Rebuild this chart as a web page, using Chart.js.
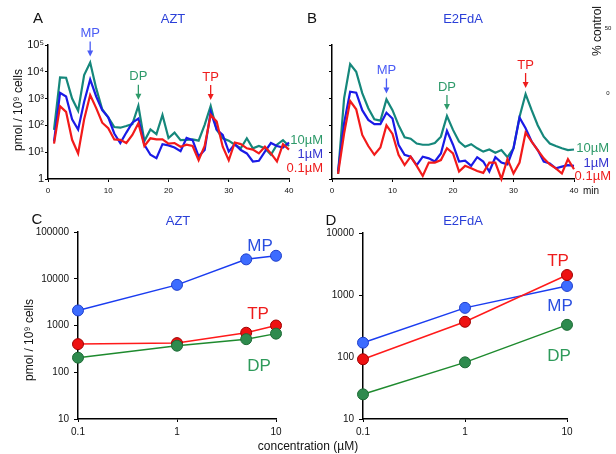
<!DOCTYPE html>
<html>
<head>
<meta charset="utf-8">
<script src="https://cdn.jsdelivr.net/npm/chart.js@4"></script>
<style>
body { margin: 0; background: #fff; }
#wrap { position: relative; width: 616px; height: 454px; overflow: hidden; font-family: "Liberation Sans", Arial, sans-serif; }
canvas { position: absolute; }
.t { position: absolute; white-space: nowrap; line-height: 1; transform: translate(-50%, -50%); }
.r { position: absolute; white-space: nowrap; line-height: 1; transform: translate(-100%, -50%); }
.rot { position: absolute; white-space: nowrap; line-height: 1; transform: translate(-50%, -50%) rotate(-90deg); }
</style>
</head>
<body>
<div id="wrap">
  <canvas id="cA" width="330" height="200" style="left:0;top:0"></canvas>
  <canvas id="cB" width="316" height="200" style="left:300px;top:0"></canvas>
  <canvas id="cC" width="300" height="254" style="left:0;top:200px"></canvas>
  <canvas id="cD" width="316" height="254" style="left:300px;top:200px"></canvas>

  <div class="t" style="left:38px;top:17px;font-size:15px;color:#111">A</div>
  <div class="t" style="left:312px;top:17px;font-size:15px;color:#111">B</div>
  <div class="t" style="left:37px;top:218px;font-size:15px;color:#111">C</div>
  <div class="t" style="left:331px;top:219px;font-size:15px;color:#111">D</div>

  <div class="t" style="left:173px;top:18px;font-size:13px;color:#2a3fd8">AZT</div>
  <div class="t" style="left:463px;top:18px;font-size:13px;color:#2a3fd8">E2FdA</div>
  <div class="t" style="left:178px;top:220px;font-size:13px;color:#2a3fd8">AZT</div>
  <div class="t" style="left:463px;top:220px;font-size:13px;color:#2a3fd8">E2FdA</div>

  <div class="rot" style="left:18px;top:110px;font-size:12px;color:#111">pmol / 10⁹ cells</div>
  <div class="rot" style="left:29px;top:340px;font-size:12px;color:#111">pmol / 10⁹ cells</div>
  <div class="t" style="left:308px;top:446px;font-size:12px;color:#111">concentration (µM)</div>
  <div class="t" style="left:591px;top:191px;font-size:10px;color:#111">min</div>

  <div class="r" style="left:323px;top:139px;font-size:13px;color:#2e9a6a">10µM</div>
  <div class="r" style="left:323px;top:153px;font-size:13px;color:#3535d0">1µM</div>
  <div class="r" style="left:323px;top:167px;font-size:13px;color:#ee1c1c">0.1µM</div>
  <div class="r" style="left:609px;top:147px;font-size:13px;color:#2e9a6a">10µM</div>
  <div class="r" style="left:609px;top:162px;font-size:13px;color:#3535d0">1µM</div>
  <div class="r" style="left:611px;top:175px;font-size:13px;color:#ee1c1c">0.1µM</div>

  <div class="t" style="left:260px;top:245px;font-size:17px;color:#2a4fe0">MP</div>
  <div class="t" style="left:258px;top:313px;font-size:17px;color:#ee1c1c">TP</div>
  <div class="t" style="left:259px;top:365px;font-size:17px;color:#2e9a5a">DP</div>
  <div class="t" style="left:558px;top:260px;font-size:17px;color:#ee1c1c">TP</div>
  <div class="t" style="left:560px;top:305px;font-size:17px;color:#2a4fe0">MP</div>
  <div class="t" style="left:559px;top:355px;font-size:17px;color:#2e9a5a">DP</div>

  <div class="rot" style="left:597px;top:31px;font-size:12px;color:#111">% control</div>
  <div class="t" style="left:608px;top:28px;font-size:6px;color:#111">50</div>
  <div class="t" style="left:608px;top:93px;font-size:6px;color:#111">0</div>
</div>
<script>
// retention time (min)
const minutes = [1, 2, 3, 4, 5, 6, 7, 8, 9, 10, 11, 12, 13, 14, 15, 16, 17, 18, 19, 20,
                 21, 22, 23, 24, 25, 26, 27, 28, 29, 30, 31, 32, 33, 34, 35, 36, 37, 38, 39, 40];

// AZT chromatograms (pmol / 10^9 cells)
const azt10 = [68, 6200, 6000, 1000, 350, 7600, 22000, 2400, 400, 200, 87, 82, 95, 112, 540, 26, 71, 47, 245, 34,
               54, 28, 29, 30, 27, 105, 530, 68, 33, 27, 19, 14, 33, 14, 17, 14, 8, 19, 28, 17];
const azt1 = [25, 1650, 1200, 170, 70, 760, 5200, 1200, 370, 200, 50, 22, 54, 126, 180, 19, 8, 6, 20, 18,
              15, 11, 34, 28, 7, 12, 320, 70, 44, 10.5, 20, 12, 9, 4.5, 4.8, 10.5, 22, 17, 15, 23];
const azt01 = [21, 520, 320, 29, 9, 170, 1350, 440, 126, 78, 30, 29, 22, 44, 120, 17, 33, 30, 30, 21,
               22, 16, 19, 17, 5, 17, 245, 138, 16, 5, 23, 20, 14, 12.5, 9, 16, 9, 4.5, 20, 12.5];

// E2FdA chromatograms
const e2f10 = [1.55, 1020, 19500, 10000, 1600, 440, 170, 150, 930, 370, 102, 36, 32, 21, 19, 19, 22, 38, 224, 68,
               25, 16, 20, 14, 10.5, 12.6, 9.5, 12, 6.5, 14, 210, 1480, 370, 102, 38, 21, 17, 14, 12, 12.6];
const e2f1 = [1.9, 120, 1800, 1660, 370, 160, 112, 112, 295, 180, 19, 8, 6.8, 3.3, 6.8, 5.9, 4.5, 9, 63, 19,
              4.5, 4.8, 3.1, 6.5, 4.5, 1.9, 6.5, 4.1, 3.5, 14, 195, 78, 25, 12, 4.5, 3.8, 2.5, 2.9, 3.3, 3.1];
const e2f01 = [1.55, 50, 810, 400, 44, 17, 8, 15, 100, 48, 8, 3.3, 6.8, 3.1, 1.3, 4.1, 4.1, 5.1, 14, 9,
               1.9, 3.1, 2.5, 2, 1.7, 4.1, 4.1, 1.0, 5.6, 1.6, 4.1, 54, 25, 12, 5.9, 3.5, 2.5, 1.6, 5.5, 2.3];

const chromTicks = [1, 10, 100, 1000, 10000, 100000];
const chromTickLabels = ['1', '10¹', '10²', '10³', '10⁴', '10⁵'];

// dose response
const concAzt = [0.1, 1, 5, 10];
const aztMP = [2100, 7400, 26000, 31000];
const aztTP = [400, 420, 700, 1000];
const aztDP = [205, 370, 510, 670];

const concE2f = [0.1, 1, 10];
const e2fMP = [170, 620, 1400];
const e2fTP = [92, 370, 2100];
const e2fDP = [25, 82, 330];

const concTicks = [0.1, 1, 10];
const aztDoseTicks = [10, 100, 1000, 10000, 100000];
const e2fDoseTicks = [10, 100, 1000, 10000];

Chart.defaults.font.family = '"Liberation Sans", Arial, sans-serif';
Chart.defaults.color = '#111';

const TEAL = '#15877b', BLUE = '#1a1ae6', RED = '#f21a1a';

function pts(xs, ys) {
    return xs.map((x, i) => ({ x: x, y: ys[i] }));
}

// arrows that mark peaks, placed from the data through the chart scales
const peakArrows = {
    id: 'peakArrows',
    afterDatasetsDraw(chart, args, opts) {
        const ctx = chart.ctx;
        const xs = chart.scales.x, ys = chart.scales.y;
        (opts.items || []).forEach(a => {
            const x = xs.getPixelForValue(a.t);
            const tip = ys.getPixelForValue(a.peak) - 6;
            const tail = tip - 15;
            ctx.save();
            ctx.strokeStyle = a.color;
            ctx.fillStyle = a.color;
            ctx.lineWidth = 1.3;
            ctx.beginPath();
            ctx.moveTo(x, tail);
            ctx.lineTo(x, tip - 3);
            ctx.stroke();
            ctx.beginPath();
            ctx.moveTo(x, tip);
            ctx.lineTo(x - 3, tip - 6);
            ctx.lineTo(x + 3, tip - 6);
            ctx.closePath();
            ctx.fill();
            ctx.font = '13px "Liberation Sans", Arial, sans-serif';
            ctx.textAlign = 'center';
            ctx.textBaseline = 'middle';
            ctx.fillText(a.label, x, tail - 8);
            ctx.restore();
        });
    }
};

function chromChart(id, w, area, teal, blue, red, showY, arrows) {
    const line = (data, color) => ({
        data: pts(minutes, data), borderColor: color, borderWidth: 2.2,
        pointRadius: 0, tension: 0, fill: false, clip: false
    });
    return new Chart(document.getElementById(id), {
        type: 'line',
        data: { datasets: [line(red, RED), line(blue, BLUE), line(teal, TEAL)] },
        options: {
            responsive: false, animation: false, devicePixelRatio: 1,
            layout: { padding: { top: area.top, right: w - area.right, left: 0, bottom: 0 } },
            plugins: { legend: { display: false }, tooltip: { enabled: false }, peakArrows: { items: arrows } },
            scales: {
                x: {
                    type: 'linear', min: 0, max: 40,
                    afterBuildTicks: s => { s.ticks = [0, 10, 20, 30, 40].map(v => ({ value: v })); },
                    afterFit: s => { s.height = 200 - area.bottom; },
                    grid: { drawOnChartArea: false, tickLength: 3, color: '#000' },
                    border: { color: '#000', width: 1.5 },
                    ticks: { font: { size: 8 }, color: '#111', padding: 4, maxRotation: 0 }
                },
                y: {
                    type: 'logarithmic', min: 1, max: 100000,
                    afterBuildTicks: s => { s.ticks = chromTicks.map(v => ({ value: v })); },
                    afterFit: s => { s.width = area.left; },
                    grid: { drawOnChartArea: false, tickLength: 3, color: '#000' },
                    border: { color: '#000', width: 1.5 },
                    ticks: {
                        autoSkip: false, font: { size: 11 }, color: '#111', padding: 1,
                        callback: (v, i) => showY ? chromTickLabels[i] : ''
                    }
                }
            }
        },
        plugins: [peakArrows]
    });
}

chromChart('cA', 330, { left: 48, top: 45, right: 289, bottom: 179 }, azt10, azt1, azt01, true, [
    { t: 7, peak: 22000, label: 'MP', color: '#4a5cf5' },
    { t: 15, peak: 540, label: 'DP', color: '#2e9a6a' },
    { t: 27, peak: 530, label: 'TP', color: '#ee1c1c' }
]);
chromChart('cB', 316, { left: 32, top: 45, right: 274, bottom: 179 }, e2f10, e2f1, e2f01, false, [
    { t: 9, peak: 930, label: 'MP', color: '#4a5cf5' },
    { t: 19, peak: 224, label: 'DP', color: '#2e9a6a' },
    { t: 32, peak: 1480, label: 'TP', color: '#ee1c1c' }
]);

function doseChart(id, w, h, area, conc, mp, tp, dp, yTicks) {
    const series = (data, line, fill, edge) => ({
        data: pts(conc, data), borderColor: line, borderWidth: 1.5, tension: 0, clip: false,
        pointRadius: 5.5, pointBackgroundColor: fill, pointBorderColor: edge, pointBorderWidth: 1
    });
    return new Chart(document.getElementById(id), {
        type: 'line',
        data: {
            datasets: [
                series(dp, '#1e8a2e', '#2e8b4e', '#1d6b35'),
                series(tp, '#ff1a1a', '#ee1111', '#a00000'),
                series(mp, '#1a3cf0', '#3d6cff', '#1f3fcc')
            ]
        },
        options: {
            responsive: false, animation: false, devicePixelRatio: 1,
            layout: { padding: { top: area.top, right: w - area.right, left: 0, bottom: 0 } },
            plugins: { legend: { display: false }, tooltip: { enabled: false } },
            scales: {
                x: {
                    type: 'logarithmic', min: 0.1, max: 10,
                    afterBuildTicks: s => { s.ticks = concTicks.map(v => ({ value: v })); },
                    afterFit: s => { s.height = h - area.bottom; },
                    grid: { drawOnChartArea: false, tickLength: 3, color: '#000' },
                    border: { color: '#000', width: 1.5 },
                    ticks: { font: { size: 10 }, color: '#111', padding: 4, callback: v => String(v) }
                },
                y: {
                    type: 'logarithmic', min: yTicks[0], max: yTicks[yTicks.length - 1],
                    afterBuildTicks: s => { s.ticks = yTicks.map(v => ({ value: v })); },
                    afterFit: s => { s.width = area.left; },
                    grid: { drawOnChartArea: false, tickLength: 4, color: '#000' },
                    border: { color: '#000', width: 1.5 },
                    ticks: { autoSkip: false, font: { size: 10 }, color: '#111', padding: 5, callback: v => String(v) }
                }
            }
        }
    });
}

doseChart('cC', 300, 254, { left: 78, top: 32, right: 276, bottom: 219 }, concAzt, aztMP, aztTP, aztDP, aztDoseTicks);
doseChart('cD', 316, 254, { left: 63, top: 33, right: 267, bottom: 219 }, concE2f, e2fMP, e2fTP, e2fDP, e2fDoseTicks);
</script>
</body>
</html>
